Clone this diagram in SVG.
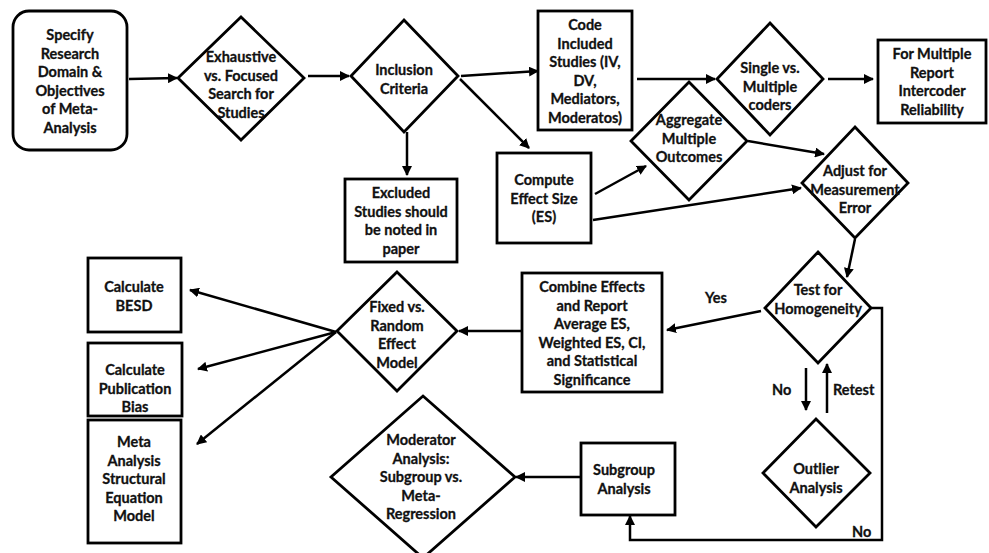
<svg xmlns="http://www.w3.org/2000/svg" width="989" height="553" viewBox="0 0 989 553">
<style>
.s{fill:#fff;stroke:#000;stroke-width:2.8}
.t{font-family:Lato,"Liberation Sans",sans-serif;font-weight:700;font-size:14.5px;fill:#111;stroke:#111;stroke-width:0.3;text-anchor:middle}
.c{fill:none;stroke:#000;stroke-width:2.5}
.l{font-family:Lato,"Liberation Sans",sans-serif;font-weight:700;font-size:14.5px;fill:#111;stroke:#111;stroke-width:0.3}
</style>
<defs>
<marker id="a" viewBox="0 0 10 10" refX="9" refY="5" markerWidth="4" markerHeight="4" orient="auto" markerUnits="strokeWidth">
<path d="M0,0 L10,5 L0,10 z" fill="#000"/>
</marker>
</defs>
<rect width="989" height="553" fill="#fff"/>
<g id="connectors">
<line class="c" x1="129" y1="79" x2="177" y2="78" marker-end="url(#a)"/>
<line class="c" x1="308" y1="76" x2="349" y2="76" marker-end="url(#a)"/>
<line class="c" x1="407" y1="132" x2="407" y2="175" marker-end="url(#a)"/>
<line class="c" x1="461" y1="76" x2="538" y2="71" marker-end="url(#a)"/>
<line class="c" x1="460" y1="79" x2="529" y2="148" marker-end="url(#a)"/>
<line class="c" x1="637" y1="79" x2="715" y2="79" marker-end="url(#a)"/>
<line class="c" x1="828" y1="79" x2="873" y2="79" marker-end="url(#a)"/>
<line class="c" x1="595" y1="194" x2="646" y2="166" marker-end="url(#a)"/>
<line class="c" x1="748" y1="141" x2="824" y2="154" marker-end="url(#a)"/>
<line class="c" x1="593" y1="220" x2="801" y2="188" marker-end="url(#a)"/>
<line class="c" x1="855" y1="239" x2="847" y2="277" marker-end="url(#a)"/>
<line class="c" x1="761" y1="311" x2="667" y2="330" marker-end="url(#a)"/>
<line class="c" x1="522" y1="331" x2="459" y2="331" marker-end="url(#a)"/>
<line class="c" x1="336" y1="332" x2="190" y2="290" marker-end="url(#a)"/>
<line class="c" x1="336" y1="332" x2="198" y2="369" marker-end="url(#a)"/>
<line class="c" x1="336" y1="332" x2="197" y2="444" marker-end="url(#a)"/>
<line class="c" x1="806" y1="368" x2="806" y2="410" marker-end="url(#a)"/>
<line class="c" x1="827" y1="413" x2="827" y2="364" marker-end="url(#a)"/>
<line class="c" x1="581" y1="477" x2="516" y2="477" marker-end="url(#a)"/>
<polyline class="c" points="871,308 882,308 882,540 630,540 630,516" marker-end="url(#a)"/>
<text class="l" x="705" y="303">Yes</text>
<text class="l" x="772" y="395">No</text>
<text class="l" x="833" y="395">Retest</text>
<text class="l" x="852" y="537">No</text>
</g>
<g id="n1"><rect class="s" x="13" y="11" width="114" height="139" rx="16"/>
<text class="t" x="70" y="40">Specify</text><text class="t" x="70" y="58.5">Research</text><text class="t" x="70" y="77">Domain &amp;</text><text class="t" x="70" y="95.5">Objectives</text><text class="t" x="70" y="114">of Meta-</text><text class="t" x="70" y="132.5">Analysis</text></g>
<g id="n2"><polygon class="s" points="241,17 304,78 241,140 178,78"/>
<text class="t" x="241" y="62">Exhaustive</text><text class="t" x="241" y="80.5">vs. Focused</text><text class="t" x="241" y="99">Search for</text><text class="t" x="241" y="117.5">Studies</text></g>
<g id="n3"><polygon class="s" points="404,20 458,76 404,132 351,76"/>
<text class="t" x="404" y="75">Inclusion</text><text class="t" x="404" y="93.5">Criteria</text></g>
<g id="n4"><rect class="s" x="345" y="179" width="112" height="83"/>
<text class="t" x="401" y="198">Excluded</text><text class="t" x="401" y="216.5">Studies should</text><text class="t" x="401" y="235">be noted in</text><text class="t" x="401" y="253.5">paper</text></g>
<g id="n5"><rect class="s" x="538" y="11" width="94" height="119"/>
<text class="t" x="585" y="30">Code</text><text class="t" x="585" y="48.5">Included</text><text class="t" x="585" y="67">Studies (IV,</text><text class="t" x="585" y="85.5">DV,</text><text class="t" x="585" y="104">Mediators,</text><text class="t" x="585" y="122.5">Moderatos)</text></g>
<g id="n6"><rect class="s" x="497" y="153" width="94" height="90"/>
<text class="t" x="544" y="185">Compute</text><text class="t" x="544" y="203.5">Effect Size</text><text class="t" x="544" y="222">(ES)</text></g>
<g id="n7"><polygon class="s" points="770,23 823,79 770,135 717,79"/>
<text class="t" x="770" y="73">Single vs.</text><text class="t" x="770" y="91.5">Multiple</text><text class="t" x="770" y="110">coders</text></g>
<g id="n8"><rect class="s" x="878" y="40" width="108" height="83"/>
<text class="t" x="932" y="59">For Multiple</text><text class="t" x="932" y="77.5">Report</text><text class="t" x="932" y="96">Intercoder</text><text class="t" x="932" y="114.5">Reliability</text></g>
<g id="n9"><polygon class="s" points="689,82 747,141 689,200 631,141"/>
<text class="t" x="689" y="125">Aggregate</text><text class="t" x="689" y="143.5">Multiple</text><text class="t" x="689" y="162">Outcomes</text></g>
<g id="n10"><polygon class="s" points="855,127 908,183 855,238 802,183"/>
<text class="t" x="855" y="176">Adjust for</text><text class="t" x="855" y="194.5">Measurement</text><text class="t" x="855" y="213">Error</text></g>
<g id="n11"><polygon class="s" points="818,252 871,308 818,363 765,308"/>
<text class="t" x="818" y="295">Test for</text><text class="t" x="818" y="314">Homogeneity</text></g>
<g id="n12"><rect class="s" x="522" y="273" width="140" height="119"/>
<text class="t" x="592" y="292">Combine Effects</text><text class="t" x="592" y="310.5">and Report</text><text class="t" x="592" y="329">Average ES,</text><text class="t" x="592" y="347.5">Weighted ES, CI,</text><text class="t" x="592" y="366">and Statistical</text><text class="t" x="592" y="384.5">Significance</text></g>
<g id="n13"><polygon class="s" points="397,272 457,331 397,391 337,331"/>
<text class="t" x="397" y="312">Fixed vs.</text><text class="t" x="397" y="330.5">Random</text><text class="t" x="397" y="349">Effect</text><text class="t" x="397" y="367.5">Model</text></g>
<g id="n14"><rect class="s" x="88" y="258" width="93" height="74"/>
<text class="t" x="134" y="292">Calculate</text><text class="t" x="134" y="311">BESD</text></g>
<g id="n15"><rect class="s" x="88" y="343" width="94" height="73"/>
<text class="t" x="135" y="375">Calculate</text><text class="t" x="135" y="393.5">Publication</text><text class="t" x="135" y="412">Bias</text></g>
<g id="n16"><rect class="s" x="88" y="420" width="93" height="123"/>
<text class="t" x="134" y="447">Meta</text><text class="t" x="134" y="465.5">Analysis</text><text class="t" x="134" y="484">Structural</text><text class="t" x="134" y="502.5">Equation</text><text class="t" x="134" y="521">Model</text></g>
<g id="n17"><polygon class="s" points="423,396 515,477 423,558 331,477"/>
<text class="t" x="421" y="445">Moderator</text><text class="t" x="421" y="463.5">Analysis:</text><text class="t" x="421" y="482">Subgroup vs.</text><text class="t" x="421" y="500.5">Meta-</text><text class="t" x="421" y="519">Regression</text></g>
<g id="n18"><rect class="s" x="581" y="443" width="94" height="72"/>
<text class="t" x="624" y="475">Subgroup</text><text class="t" x="624" y="493.5">Analysis</text></g>
<g id="n19"><polygon class="s" points="816,419 870,473 816,527 763,473"/>
<text class="t" x="816" y="474">Outlier</text><text class="t" x="816" y="492.5">Analysis</text></g>
</svg>
